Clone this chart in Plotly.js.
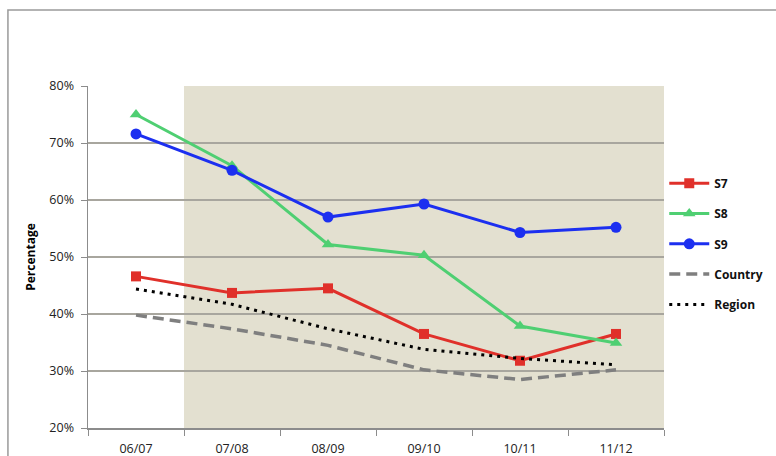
<!DOCTYPE html>
<html><head><meta charset="utf-8">
<script src="https://cdn.plot.ly/plotly-3.0.1.min.js"></script>
<style>html,body{margin:0;padding:0;background:#fff}#c{width:776px;height:456px}</style>
</head><body><div id="c"></div>
<script>
const categories = ["06/07","07/08","08/09","09/10","10/11","11/12"];
const s7 = [46.6, 43.7, 44.5, 36.5, 31.8, 36.5];
const s8 = [75.0, 66.0, 52.2, 50.3, 37.9, 34.9];
const s9 = [71.6, 65.2, 57.0, 59.3, 54.3, 55.2];
const country = [39.8, 37.4, 34.5, 30.2, 28.5, 30.2];
const region = [44.4, 41.7, 37.4, 33.8, 32.2, 31.1];
const seriesNames = ["S7","S8","S9","Country","Region"];
const yTicks = [20,30,40,50,60,70,80];

const base = {type:"scatter", x:categories, cliponaxis:false};
const traces = [
  Object.assign({}, base, {name:seriesNames[0], y:s7, mode:"lines+markers", legendgroup:"a",
    line:{color:"#e0302a", width:3}, marker:{symbol:"square", size:10, color:"#e0302a"}}),
  Object.assign({}, base, {name:seriesNames[1], y:s8, mode:"lines+markers", legendgroup:"b",
    line:{color:"#4fcf72", width:3}, marker:{symbol:"triangle-up", size:11, color:"#4fcf72"}}),
  Object.assign({}, base, {name:seriesNames[2], y:s9, mode:"lines+markers", legendgroup:"c",
    line:{color:"#1c2ff0", width:3}, marker:{symbol:"circle", size:11, color:"#1c2ff0"}}),
  Object.assign({}, base, {name:seriesNames[3], y:country, mode:"lines", legendgroup:"d",
    line:{color:"#7f7f7f", width:3.5, dash:"11px,6px"}}),
  Object.assign({}, base, {name:seriesNames[4], y:region, mode:"lines", legendgroup:"e",
    line:{color:"#000000", width:3, dash:"3px,5px"}})
];

const layout = {
  width:776, height:456,
  margin:{l:88, r:112, t:86, b:28},
  paper_bgcolor:"#ffffff", plot_bgcolor:"#ffffff",
  font:{family:"Open Sans, Liberation Sans, sans-serif", color:"#222"},
  showlegend:true,
  legend:{xref:"container", yref:"container", x:0.856, y:0.630, xanchor:"left", yanchor:"top", tracegroupgap:11.3,
    font:{size:12, color:"#111", family:"Open Sans, sans-serif", weight:"bold"},
    itemwidth:40, bgcolor:"rgba(0,0,0,0)"},
  xaxis:{type:"category", range:[-0.5,5.5], tickson:"boundaries", ticks:"outside", ticklen:6,
    tickcolor:"#8c8c8c", showline:true, linecolor:"#8c8c8c", linewidth:1.5, showgrid:false,
    ticklabelstandoff:8,
    tickfont:{size:12.5, color:"#222"}, fixedrange:true},
  yaxis:{range:[20,80], tickvals:yTicks, ticktext:yTicks.map(v=>v+"%"), ticks:"outside", ticklen:6,
    tickcolor:"#8c8c8c", showline:true, linecolor:"#8c8c8c", linewidth:1.5, showgrid:true,
    gridcolor:"#a8a69e", gridwidth:1.5, zeroline:false, tickfont:{size:12.5, color:"#222"},
    ticklabelstandoff:4,
    title:{text:"<b>Percentage</b>", font:{size:12, color:"#000"}, standoff:11}, fixedrange:true},
  shapes:[
    {type:"rect", xref:"x", yref:"paper", x0:0.5, x1:5.5, y0:0, y1:1, fillcolor:"#e3e0d0",
      line:{width:0}, layer:"below"},
    {type:"rect", xref:"paper", yref:"paper", x0:-0.139, x1:1.4, y0:-0.3, y1:1.222,
      line:{color:"#9a9a9a", width:1.5}, fillcolor:"rgba(0,0,0,0)", layer:"below"}
  ]
};
Plotly.newPlot("c", traces, layout, {displayModeBar:false, staticPlot:true});
</script></body></html>
